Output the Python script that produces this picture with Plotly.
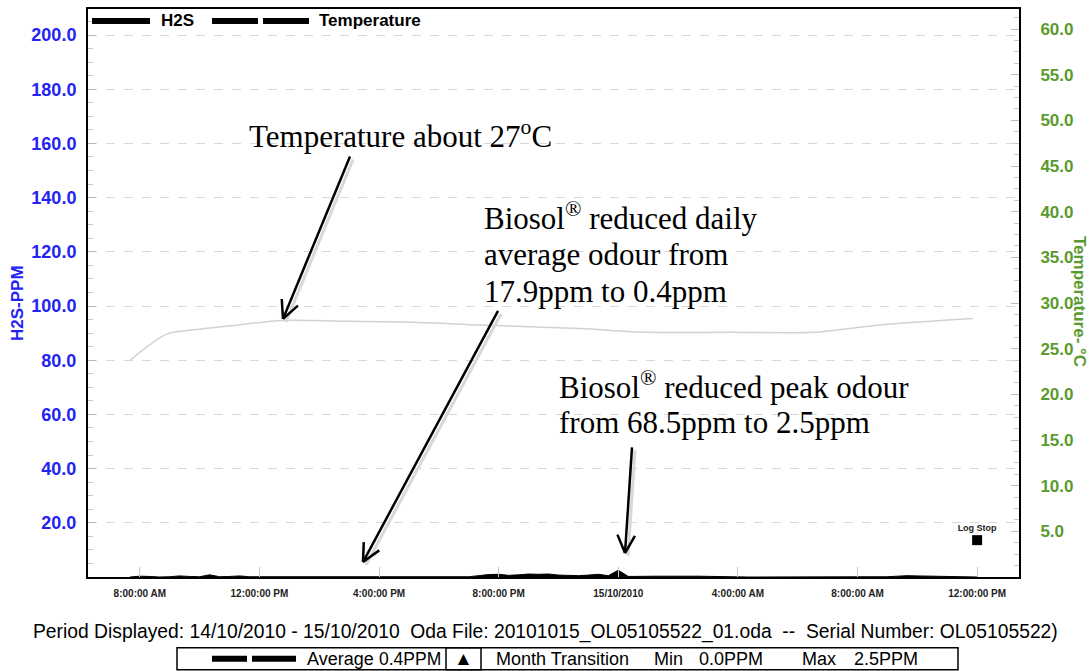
import math
import pandas as pd
import plotly.graph_objects as go

# ---------------- data ----------------
h2s_start = "2010-10-14 07:40"
h2s_step = "20min"
h2s_ppm = [
    0.0,                 # 07:40
    0.3, 0.2, 0.0,       # 08
    0.1, 0.4, 0.2,       # 09
    0.1, 0.8, 0.1,       # 10
    0.2, 0.4, 0.1,       # 11
    0.1, 0.0, 0.0,       # 12
    0.1, 0.2, 0.0,       # 13
    0.0, 0.0, 0.0,       # 14
    0.1, 0.0, 0.0,       # 15
    0.0, 0.0, 0.0,       # 16
    0.0, 0.0, 0.1,       # 17
    0.1, 0.0, 0.2,       # 18
    0.1, 0.5, 0.9,       # 19
    1.0, 0.6, 0.8,       # 20
    1.1, 1.0, 1.1,       # 21
    0.7, 0.5, 0.5,       # 22
    0.7, 1.0, 0.5,       # 23
    2.5, 0.2, 0.3,       # 00 (15/10)
    0.3, 0.3, 0.3,       # 01
    0.2, 0.3, 0.3,       # 02
    0.2, 0.2, 0.0,       # 03
    0.1, 0.0, 0.0,       # 04
    0.0, 0.0, 0.0,       # 05
    0.0, 0.0, 0.0,       # 06
    0.0, 0.1, 0.1,       # 07
    0.0, 0.0, 0.0,       # 08
    0.1, 0.3, 0.5,       # 09
    0.4, 0.3, 0.3,       # 10
    0.2, 0.2, 0.1,       # 11
    0.0,                 # 12:00
]
h2s_times = pd.date_range(h2s_start, periods=len(h2s_ppm), freq=h2s_step)

temp_times = ["2010-10-14 07:40", "2010-10-14 08:14", "2010-10-14 08:54",
              "2010-10-14 09:54", "2010-10-14 11:00", "2010-10-14 12:47",
              "2010-10-14 14:55", "2010-10-14 17:08", "2010-10-14 19:22",
              "2010-10-14 22:42", "2010-10-15 00:58", "2010-10-15 03:44",
              "2010-10-15 06:30", "2010-10-15 08:45", "2010-10-15 11:52"]
temp_c = [23.7, 25.2, 26.6, 27.1, 27.5, 28.1, 28.0, 27.9, 27.6, 27.2,
          26.8, 26.8, 26.8, 27.6, 28.3]

log_stop_time = ["2010-10-15 12:00"]
log_stop_ppm = [13.6]
log_stop_label = ["Log Stop"]

x_tickvals = ["2010-10-14 08:00", "2010-10-14 12:00", "2010-10-14 16:00",
              "2010-10-14 20:00", "2010-10-15 00:00", "2010-10-15 04:00",
              "2010-10-15 08:00", "2010-10-15 12:00"]
x_ticktext = ["8:00:00 AM", "12:00:00 PM", "4:00:00 PM", "8:00:00 PM",
              "15/10/2010", "4:00:00 AM", "8:00:00 AM", "12:00:00 PM"]
x_range = ["2010-10-14 06:16", "2010-10-15 13:24"]

h2s_ticks = [20, 40, 60, 80, 100, 120, 140, 160, 180, 200]
temp_ticks = [5, 10, 15, 20, 25, 30, 35, 40, 45, 50, 55, 60]

# ---------------- layout helpers ----------------
W, H = 1089, 671
L, R, T, B = 88, 1019, 7, 577


def px(x):
    return (x - L) / (R - L)


def py(y):
    return (B - y) / (B - T)


BLUE = "#2323f5"
GREEN = "#5a9a2e"
SANS = "Liberation Sans, Arial, sans-serif"
SERIF = "Liberation Serif, Times New Roman, serif"

fig = go.Figure()

fig.add_trace(go.Scatter(
    x=h2s_times, y=h2s_ppm, mode="lines", fill="tozeroy",
    line=dict(color="black", width=1), fillcolor="black",
    yaxis="y", showlegend=False, name="H2S"))

fig.add_trace(go.Scatter(
    x=temp_times, y=temp_c, mode="lines",
    line=dict(color="#d2d2d2", width=1.5, shape="spline", smoothing=0.8),
    yaxis="y2", showlegend=False, name="Temperature"))

fig.add_trace(go.Scatter(
    x=log_stop_time, y=log_stop_ppm, mode="markers+text",
    marker=dict(symbol="square", size=10, color="black"),
    text=log_stop_label, textposition="top center",
    textfont=dict(family=SANS, size=9, color="#222", weight="bold"),
    yaxis="y", showlegend=False))

shapes = []
annotations = []


def arrow(tx, ty, hx, hy, arm=20, ang=26):
    dx, dy = hx - tx, hy - ty
    n = math.hypot(dx, dy)
    ux, uy = -dx / n, -dy / n
    out = [dict(type="line", xref="paper", yref="paper",
                x0=px(tx + 3), y0=py(ty + 3), x1=px(hx + 3), y1=py(hy + 3),
                line=dict(color="#d8d8d8", width=3)),
           dict(type="line", xref="paper", yref="paper",
                x0=px(tx), y0=py(ty), x1=px(hx), y1=py(hy),
                line=dict(color="black", width=2.5))]
    for s in (1, -1):
        a = math.radians(ang) * s
        ex = hx + arm * (ux * math.cos(a) - uy * math.sin(a))
        ey = hy + arm * (ux * math.sin(a) + uy * math.cos(a))
        out.append(dict(type="line", xref="paper", yref="paper",
                        x0=px(hx), y0=py(hy), x1=px(ex), y1=py(ey),
                        line=dict(color="black", width=2.5)))
    return out


shapes += arrow(350, 155, 283, 318)
shapes += arrow(498, 310, 363, 562)
shapes += arrow(632, 447, 625, 553)


def text(x, y, s, size=31, family=SERIF, xanchor="left", color="black",
         weight="normal", angle=0):
    annotations.append(dict(
        x=px(x), y=py(y), xref="paper", yref="paper", text=s,
        showarrow=False, xanchor=xanchor, yanchor="middle", textangle=angle,
        font=dict(family=family, size=size, color=color, weight=weight)))


text(247, 133, "Temperature about 27<sup>o</sup>C")
text(482, 215, "Biosol<sup>®</sup> reduced daily")
text(482, 253, "average odour from")
text(482, 290, "17.9ppm to 0.4ppm")
text(557, 385, "Biosol<sup>®</sup> reduced peak odour")
text(557, 422, "from 68.5ppm to 2.5ppm")

# top legend
for (a, b) in [(92, 150), (212, 258), (263, 309)]:
    shapes.append(dict(type="line", xref="paper", yref="paper",
                       x0=px(a), y0=py(19), x1=px(b), y1=py(19),
                       line=dict(color="black", width=6)))
text(159, 19, "H2S", size=17, family=SANS, weight="bold")
text(317, 19, "Temperature", size=17, family=SANS, weight="bold")

# axis titles
text(18, 302, "H2S-PPM", size=17, family=SANS, weight="bold", color=BLUE,
     xanchor="center", angle=-90)
text(1079, 300, "Temperature- °C", size=17, family=SANS, weight="bold",
     color=GREEN, xanchor="center", angle=90)

# footer
text(545, 632, "Period Displayed: 14/10/2010 - 15/10/2010\u00a0\u00a0Oda File: "
     "20101015_OL05105522_01.oda\u00a0\u00a0--\u00a0\u00a0Serial Number: OL05105522)",
     size=19.3, family=SANS, xanchor="center")
shapes.append(dict(type="rect", xref="paper", yref="paper",
                   x0=px(177), y0=py(648), x1=px(958), y1=py(670),
                   line=dict(color="black", width=1.5)))
shapes.append(dict(type="rect", xref="paper", yref="paper",
                   x0=px(446), y0=py(648), x1=px(481), y1=py(670),
                   line=dict(color="black", width=1.5)))
for (a, b) in [(212, 247), (252, 296)]:
    shapes.append(dict(type="line", xref="paper", yref="paper",
                       x0=px(a), y0=py(659), x1=px(b), y1=py(659),
                       line=dict(color="black", width=6)))
text(305, 659, "Average", size=18, family=SANS)
text(377, 659, "0.4PPM", size=17.5, family=SANS)
text(463, 659, "▲", size=19, family=SANS, xanchor="center")
text(494, 659, "Month Transition", size=18, family=SANS)
text(652, 659, "Min", size=18, family=SANS)
text(697, 659, "0.0PPM", size=18, family=SANS)
text(800, 659, "Max", size=18, family=SANS)
text(852, 659, "2.5PPM", size=18, family=SANS)

fig.update_layout(
    width=W, height=H,
    margin=dict(l=L, r=W - R, t=T, b=H - B, pad=0),
    paper_bgcolor="white", plot_bgcolor="white",
    showlegend=False,
    shapes=shapes, annotations=annotations,
    xaxis=dict(
        type="date", range=x_range, tickvals=x_tickvals, ticktext=x_ticktext,
        tickfont=dict(family=SANS, size=10, color="#222", weight="bold"),
        ticks="inside", ticklen=10, tickcolor="#c8c8c8", tickwidth=1,
        showline=True, linecolor="black", linewidth=2, mirror=True,
        showgrid=False, zeroline=False, ticklabelstandoff=6),
    yaxis=dict(
        range=[0, 209.6], tickvals=h2s_ticks,
        ticktext=[f"{v:.1f}" for v in h2s_ticks],
        tickfont=dict(family=SANS, size=18, color=BLUE, weight="bold"),
        ticks="inside", ticklen=8, tickcolor="#b8b8b8",
        minor=dict(dtick=5, ticks="inside", ticklen=5, tickcolor="#c8c8c8",
                   showgrid=False),
        showgrid=True, gridcolor="#d8d8d8", griddash="dash", gridwidth=1,
        showline=True, linecolor="black", linewidth=2, zeroline=False,
        ticklabelstandoff=6),
    yaxis2=dict(
        overlaying="y", side="right", range=[0, 62.2], tickvals=temp_ticks,
        ticktext=[f"{v:.1f}" for v in temp_ticks],
        tickfont=dict(family=SANS, size=17, color=GREEN, weight="bold"),
        ticks="inside", ticklen=8, tickcolor="#b8b8b8",
        minor=dict(dtick=1.25, ticks="inside", ticklen=5, tickcolor="#c8c8c8",
                   showgrid=False),
        showgrid=False, showline=True, linecolor="black", linewidth=2,
        zeroline=False, ticklabelstandoff=16),
)

fig.write_html("out.html", config={"displayModeBar": False},
               post_script="document.body.style.margin='0';"
                           "document.body.style.overflow='hidden';")
